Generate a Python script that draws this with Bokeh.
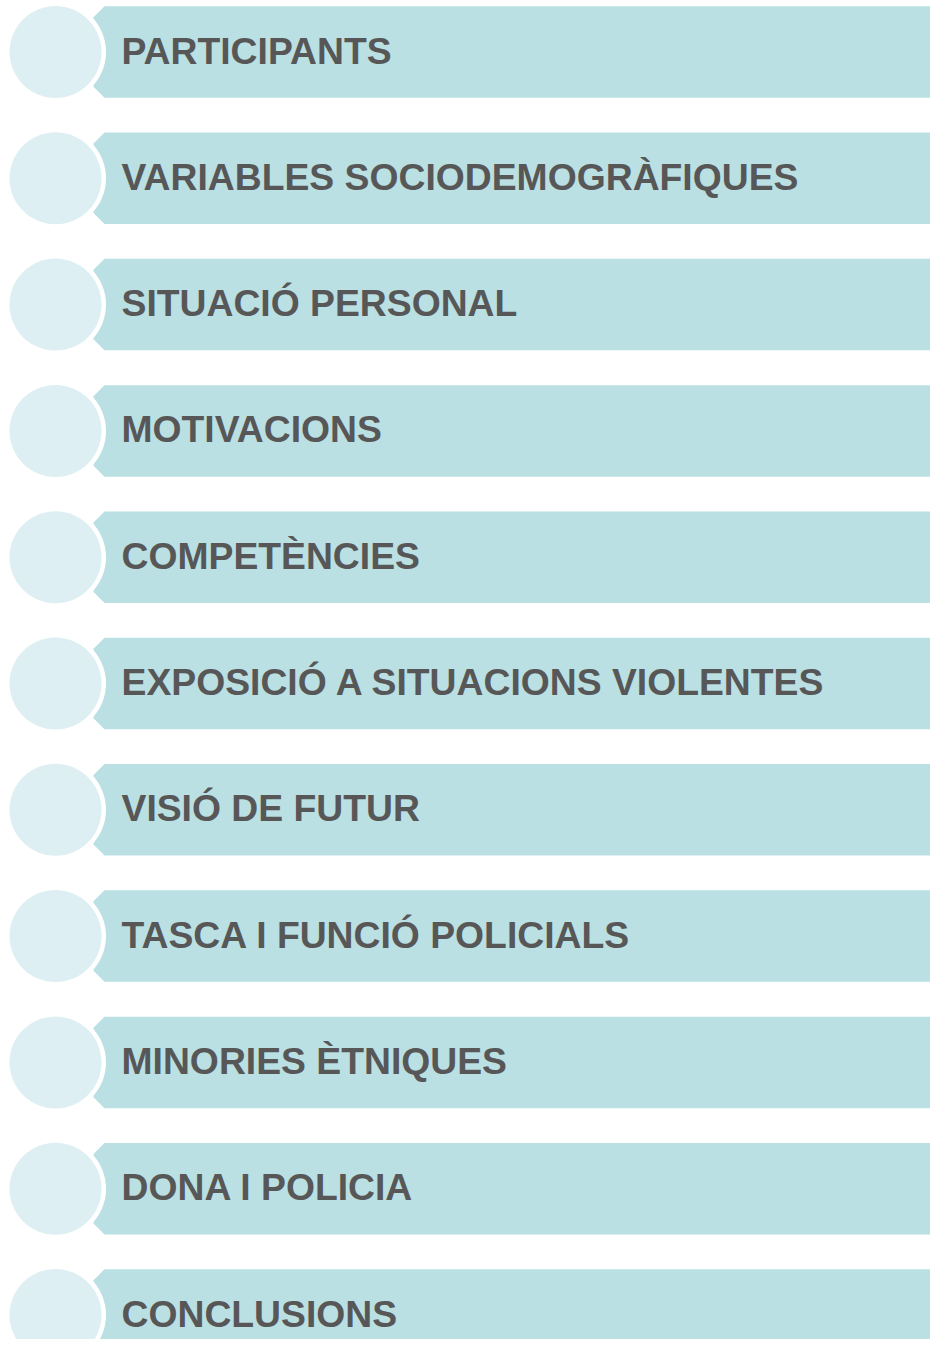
from bokeh.plotting import figure
from bokeh.models import Range1d, ColumnDataSource
from bokeh.core.properties import value
from bokeh.embed import file_html
from bokeh.resources import INLINE

# ---- data ----
labels = [
    "PARTICIPANTS",
    "VARIABLES SOCIODEMOGRÀFIQUES",
    "SITUACIÓ PERSONAL",
    "MOTIVACIONS",
    "COMPETÈNCIES",
    "EXPOSICIÓ A SITUACIONS VIOLENTES",
    "VISIÓ DE FUTUR",
    "TASCA I FUNCIÓ POLICIALS",
    "MINORIES ÈTNIQUES",
    "DONA I POLICIA",
    "CONCLUSIONS",
]

# ---- layout (pixels) ----
W, H = 930, 1339
ROW_STEP = 126.3
FIRST_CENTER = 51.5
BANNER_H = 91.5
CHAMFER = 11
BANNER_X0 = 93
BANNER_X1 = 960
CIRCLE_X = 55
CIRCLE_R = 46
RING_R = 50.5
TEXT_X = 121
TEXT_DY = -1.5

BANNER_COL = "#BAE0E3"
CIRCLE_COL = "#DDEFF2"
TEXT_COL = "#575757"

centers = [FIRST_CENTER + i * ROW_STEP for i in range(len(labels))]

xs, ys = [], []
for c in centers:
    top = c - BANNER_H / 2
    bot = c + BANNER_H / 2
    xs.append([BANNER_X0 + CHAMFER, BANNER_X0, BANNER_X0, BANNER_X0 + CHAMFER, BANNER_X1, BANNER_X1])
    ys.append([top, top + CHAMFER, bot - CHAMFER, bot, bot, top])

p = figure(
    width=W, height=H,
    x_range=Range1d(0, W),
    y_range=Range1d(H, 0),
    output_backend="svg", toolbar_location=None,
    x_axis_type=None, y_axis_type=None,
    min_border=0, outline_line_color=None,
    background_fill_color="white", border_fill_color="white",
)
p.xgrid.visible = False
p.ygrid.visible = False

p.patches(xs=xs, ys=ys, fill_color=BANNER_COL, line_color=None)

src = ColumnDataSource(dict(
    x=[CIRCLE_X] * len(labels),
    y=centers,
    ty=[c + TEXT_DY for c in centers],
    tx=[TEXT_X] * len(labels),
    label=labels,
))

p.scatter("x", "y", source=src, size=2 * RING_R, fill_color="white", line_color=None)
p.scatter("x", "y", source=src, size=2 * CIRCLE_R, fill_color=CIRCLE_COL, line_color=None)

p.text("tx", "ty", text="label", source=src,
       text_font=value("Liberation Sans"), text_font_style="bold",
       text_font_size="37.3px", text_color=TEXT_COL,
       text_baseline="alphabetic", text_align="left")

open("out.html", "w").write(file_html(p, INLINE))
